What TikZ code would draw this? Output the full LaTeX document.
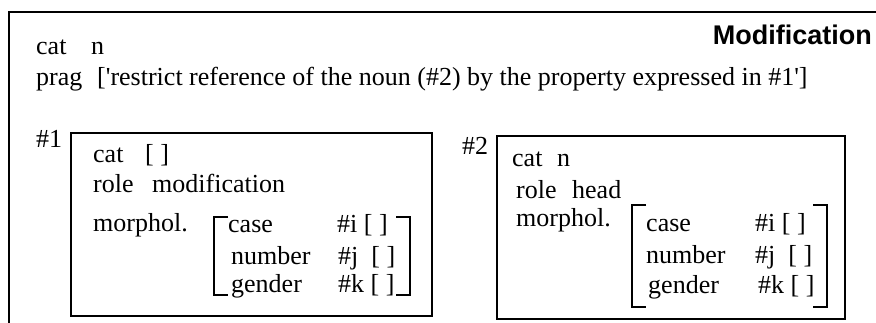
\documentclass[tikz,border=0pt]{standalone}
\usepackage{fontspec}
\setmainfont{Liberation Serif}
\newfontfamily\headfont{Liberation Sans}
\usetikzlibrary{positioning}

\begin{document}
\begin{tikzpicture}[x=1pt, y=-1pt,
    txt/.style={anchor=base west, inner sep=0pt, font=\fontsize{26}{30}\selectfont},
    head/.style={anchor=base east, inner sep=0pt, font=\headfont\bfseries\fontsize{27}{32}\selectfont},
    frame/.style={line width=1.6pt},
    brk/.style={line width=1.6pt}
]
\useasboundingbox (0,0) rectangle (876,323);
\clip (0,0) rectangle (876,323);

% outer frame, runs off the page to the right and below
\draw[frame] (9,340) -- (9,12) -- (890,12) -- (890,340);

\node[head] (title) at (872,45) {Modification};
\node[txt] (catA) at (36,55) {cat};
\node[txt] (catV) at (91,55) {n};
\node[txt] (prag) at (36,86) {prag};
\node[txt] (pragV) at (97,86) {[\textquotesingle restrict reference of the noun (\#2) by the property expressed in \#1\textquotesingle]};

% #1 : the modifier
\node[txt] (tagA) at (36,148) {\#1};
\draw[frame] (71,133) rectangle (432,316);
\node[txt] (catB) at (93,163) {cat};
\node[txt] (catBV) at (145,163) {[ ]};
\node[txt] (roleB) at (93,193) {role};
\node[txt] (roleBV) at (152,193) {modification};
\node[txt] (morB) at (93,232) {morphol.};
\draw[brk] (228,217) -- (214,217) -- (214,295) -- (228,295);
\draw[brk] (396,217) -- (410,217) -- (410,295) -- (396,295);
\node[txt] (caseB) at (228,233) {case};
\node[txt] (caseBV) at (337,233) {\#i [ ]};
\node[txt] (numB) at (231,265) {number};
\node[txt] (numBV) at (338,265) {\#j\enspace[ ]};
\node[txt] (genB) at (231,293) {gender};
\node[txt] (genBV) at (338,293) {\#k [ ]};

% #2 : the head noun
\node[txt] (tagB) at (462,155) {\#2};
\draw[frame] (497,136) rectangle (845,319);
\node[txt] (catC) at (512,167) {cat};
\node[txt] (catCV) at (557,167) {n};
\node[txt] (roleC) at (516,199) {role};
\node[txt] (roleCV) at (572,199) {head};
\node[txt] (morC) at (516,227) {morphol.};
\draw[brk] (646,205) -- (632,205) -- (632,307) -- (646,307);
\draw[brk] (813,205) -- (827,205) -- (827,307) -- (813,307);
\node[txt] (caseC) at (646,232) {case};
\node[txt] (caseCV) at (755,232) {\#i [ ]};
\node[txt] (numC) at (646,264) {number};
\node[txt] (numCV) at (755,264) {\#j\enspace[ ]};
\node[txt] (genC) at (648,294) {gender};
\node[txt] (genCV) at (758,294) {\#k [ ]};
\end{tikzpicture}
\end{document}
